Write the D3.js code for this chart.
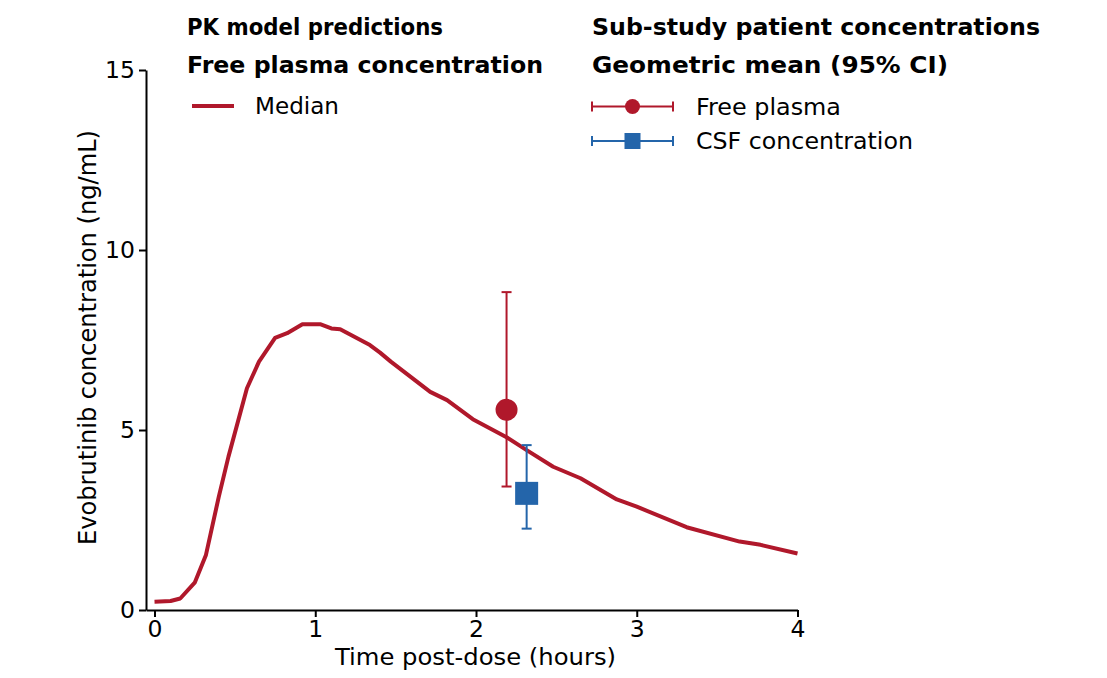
<!DOCTYPE html>
<html>
<head>
<meta charset="utf-8">
<script src="https://cdn.jsdelivr.net/npm/d3@7"></script>
<style>
  body { margin: 0; background: #fff; }
  svg text { font-family: "DejaVu Sans", Verdana, sans-serif; fill: #000; }
</style>
</head>
<body>
<div id="chart"></div>
<script>
// model prediction (median free plasma)
const times = [0, 0.1, 0.16, 0.25, 0.32, 0.4, 0.46, 0.575, 0.65, 0.75, 0.825, 0.92, 1.03, 1.1, 1.155, 1.34, 1.403, 1.47, 1.715, 1.82, 1.98, 2.19, 2.315, 2.48, 2.65, 2.876, 3.0, 3.31, 3.64, 3.77, 4.0];
const medians = [0.23, 0.25, 0.32, 0.76, 1.53, 3.15, 4.26, 6.16, 6.9, 7.56, 7.69, 7.94, 7.94, 7.82, 7.8, 7.36, 7.15, 6.9, 6.06, 5.83, 5.3, 4.8, 4.44, 3.98, 3.66, 3.07, 2.87, 2.3, 1.9, 1.81, 1.57];

// sub-study geometric means with 95% CI
const groups = ["Free plasma", "CSF concentration"];
const obsTime = [2.19, 2.315];
const obsMean = [5.56, 3.24];
const obsLow = [3.43, 2.26];
const obsHigh = [8.83, 4.58];

const xTicks = [0, 1, 2, 3, 4];
const yTicks = [0, 5, 10, 15];

const red = "#b0182b", blue = "#2465aa";

const W = 1107, H = 678;
const svg = d3.select("#chart").append("svg").attr("width", W).attr("height", H);

const x = d3.scaleLinear().domain([-0.053, 4]).range([146, 797.5]);
const y = d3.scaleLinear().domain([0, 15]).range([610, 70]);

// helper: text stretched to the width measured on the reference (Verdana is wider than DejaVu)
function label(g, tx, ty, s, size, width, weight) {
  return g.append("text").attr("x", tx).attr("y", ty)
    .attr("font-size", size).attr("font-weight", weight || "normal")
    .attr("textLength", width).attr("lengthAdjust", "spacingAndGlyphs")
    .text(s);
}

// axes
const xAxis = svg.append("g").attr("transform", "translate(0,610)")
  .call(d3.axisBottom(x).tickValues(xTicks).tickFormat(d3.format("d")).tickSize(7).tickSizeOuter(0).tickPadding(3));
const yAxis = svg.append("g").attr("transform", "translate(146,0)")
  .call(d3.axisLeft(y).tickValues(yTicks).tickFormat(d3.format("d")).tickSize(7).tickSizeOuter(0).tickPadding(4));
[xAxis, yAxis].forEach(a => {
  a.selectAll("path, line").attr("stroke", "#000").attr("stroke-width", 2);
  a.selectAll("text").attr("font-size", 23.5).attr("font-family", "DejaVu Sans, Verdana, sans-serif").attr("fill", "#000");
});

label(svg, 335, 665, "Time post-dose (hours)", 23.5, 281);
label(svg.append("g").attr("transform", "translate(96,545) rotate(-90)"), 0, 0, "Evobrutinib concentration (ng/mL)", 24, 415);

// median line
const line = d3.line().x((d, i) => x(times[i])).y(d => y(d));
svg.append("path").datum(medians).attr("d", line)
  .attr("fill", "none").attr("stroke", red).attr("stroke-width", 4).attr("stroke-linejoin", "round");

// observed points
const colors = [red, blue];
const obs = svg.selectAll(".obs").data(groups).join("g").attr("class", "obs");
obs.append("line")
  .attr("x1", (d, i) => x(obsTime[i])).attr("x2", (d, i) => x(obsTime[i]))
  .attr("y1", (d, i) => y(obsLow[i])).attr("y2", (d, i) => y(obsHigh[i]))
  .attr("stroke", (d, i) => colors[i]).attr("stroke-width", 2);
[obsLow, obsHigh].forEach(arr => {
  obs.append("line")
    .attr("x1", (d, i) => x(obsTime[i]) - 5).attr("x2", (d, i) => x(obsTime[i]) + 5)
    .attr("y1", (d, i) => y(arr[i])).attr("y2", (d, i) => y(arr[i]))
    .attr("stroke", (d, i) => colors[i]).attr("stroke-width", 2);
});
obs.filter((d, i) => i === 0).append("circle")
  .attr("cx", x(obsTime[0])).attr("cy", y(obsMean[0])).attr("r", 11).attr("fill", red);
obs.filter((d, i) => i === 1).append("rect")
  .attr("x", x(obsTime[1]) - 11.5).attr("y", y(obsMean[1]) - 11.5)
  .attr("width", 23).attr("height", 23).attr("fill", blue);

// headers
label(svg, 187, 35, "PK model predictions", 22.5, 256, "bold");
label(svg, 187, 73, "Free plasma concentration", 22.5, 356, "bold");
label(svg, 592, 35, "Sub-study patient concentrations", 22.5, 448, "bold");
label(svg, 592, 73, "Geometric mean (95% CI)", 22.5, 356, "bold");

// legend: median
svg.append("line").attr("x1", 192).attr("x2", 234).attr("y1", 106).attr("y2", 106)
  .attr("stroke", red).attr("stroke-width", 4);
label(svg, 255, 114, "Median", 23.5, 84);

// legend: observations
const legWidths = [145, 217];
const leg = svg.selectAll(".leg").data(groups).join("g").attr("class", "leg")
  .attr("transform", (d, i) => `translate(0,${106.5 + i * 34.5})`);
leg.append("line").attr("x1", 592).attr("x2", 673).attr("stroke", (d, i) => colors[i]).attr("stroke-width", 2);
leg.append("line").attr("x1", 592).attr("x2", 592).attr("y1", -5).attr("y2", 5).attr("stroke", (d, i) => colors[i]).attr("stroke-width", 2);
leg.append("line").attr("x1", 673).attr("x2", 673).attr("y1", -5).attr("y2", 5).attr("stroke", (d, i) => colors[i]).attr("stroke-width", 2);
leg.filter((d, i) => i === 0).append("circle").attr("cx", 632.5).attr("r", 7.5).attr("fill", red);
leg.filter((d, i) => i === 1).append("rect").attr("x", 624.5).attr("y", -8).attr("width", 16).attr("height", 16).attr("fill", blue);
leg.each(function (d, i) { label(d3.select(this), 696, 8, d, 23.5, legWidths[i]); });
</script>
</body>
</html>
